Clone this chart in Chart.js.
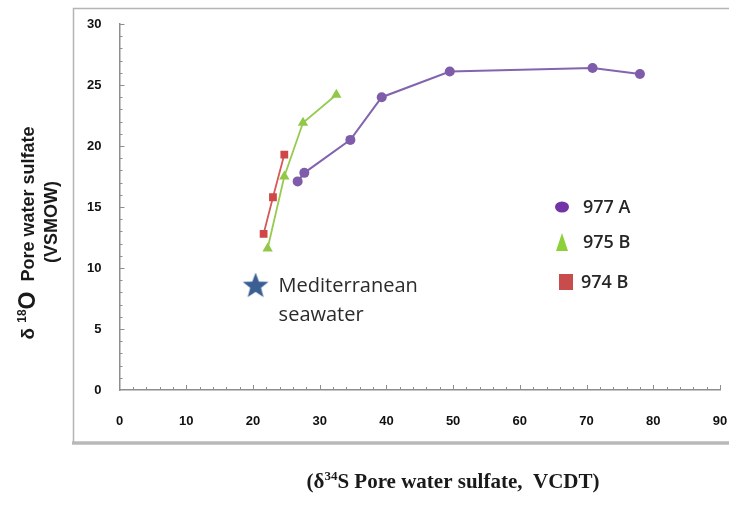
<!DOCTYPE html>
<html>
<head>
<meta charset="utf-8">
<script src="https://cdn.jsdelivr.net/npm/chart.js@4.4.1/dist/chart.umd.min.js"></script>
<style>
  html, body { margin: 0; padding: 0; background: #ffffff; }
  #wrap { width: 729px; height: 505px; position: relative; }
</style>
</head>
<body>
<div id="wrap"><canvas id="c" width="729" height="505"></canvas></div>
<script>
// ---- data ----
const seriesNames = ['977 A', '975 B', '974 B'];
const x977 = [26.7, 27.7, 34.6, 39.3, 49.5, 70.9, 78.0];
const y977 = [17.1, 17.8, 20.5, 24.0, 26.1, 26.4, 25.9];
const x975 = [22.2, 24.7, 27.5, 32.5];
const y975 = [11.6, 17.5, 21.9, 24.2];
const x974 = [21.6, 23.0, 24.7];
const y974 = [12.8, 15.8, 19.3];
const seawaterX = [20.4];
const seawaterY = [8.6];
const seawaterLabel = ['Mediterranean', 'seawater'];
const xTicks = [0, 10, 20, 30, 40, 50, 60, 70, 80, 90];
const yTicks = [0, 5, 10, 15, 20, 25, 30];

const pts = (xs, ys) => xs.map((x, i) => ({ x: x, y: ys[i] }));

// filled five-point star marker
function makeStar(size, color) {
  const c = document.createElement('canvas');
  c.width = size; c.height = size;
  const g = c.getContext('2d');
  const cx = size / 2, cy = size / 2 + 1, R = size / 2 - 0.5, r = R * 0.42;
  g.beginPath();
  for (let i = 0; i < 10; i++) {
    const a = -Math.PI / 2 + i * Math.PI / 5;
    const rr = i % 2 === 0 ? R : r;
    const px = cx + rr * Math.cos(a), py = cy + rr * Math.sin(a);
    if (i === 0) g.moveTo(px, py); else g.lineTo(px, py);
  }
  g.closePath();
  g.fillStyle = color;
  g.fill();
  return c;
}
const starImg = makeStar(28, '#3B5E93');

const AXIS = '#8e8e8e';

const decor = {
  id: 'decor',
  beforeDraw(chart) {
    const ctx = chart.ctx;
    ctx.save();
    ctx.fillStyle = '#ffffff';
    ctx.fillRect(0, 0, chart.width, chart.height);
    // outer frame
    ctx.strokeStyle = '#b4b4b4';
    ctx.lineWidth = 1.5;
    ctx.beginPath();
    ctx.moveTo(740, 8.5);
    ctx.lineTo(73.5, 8.5);
    ctx.lineTo(73.5, 442);
    ctx.stroke();
    ctx.lineWidth = 3.5;
    ctx.strokeStyle = '#b8b8b8';
    ctx.beginPath();
    ctx.moveTo(72, 443);
    ctx.lineTo(740, 443);
    ctx.stroke();
    ctx.restore();
  },
  afterDraw(chart) {
    const ctx = chart.ctx;
    const xs = chart.scales.x, ys = chart.scales.y;
    ctx.save();
    // inward tick marks
    ctx.strokeStyle = AXIS;
    ctx.lineWidth = 1;
    const y0 = ys.getPixelForValue(0);
    for (let v = 2; v <= 90; v += 2) {
      const px = Math.round(xs.getPixelForValue(v)) + 0.5;
      const len = v % 10 === 0 ? 5 : 3;
      ctx.beginPath(); ctx.moveTo(px, y0); ctx.lineTo(px, y0 - len); ctx.stroke();
    }
    const x0 = xs.getPixelForValue(0);
    for (let v = 1; v <= 30; v += 1) {
      const py = Math.round(ys.getPixelForValue(v)) + 0.5;
      const len = v % 5 === 0 ? 5 : 3;
      ctx.beginPath(); ctx.moveTo(x0, py); ctx.lineTo(x0 + len, py); ctx.stroke();
    }

    // y axis title (rotated, two lines)
    ctx.fillStyle = '#1a1a1a';
    ctx.save();
    ctx.translate(29, 233);
    ctx.rotate(-Math.PI / 2);
    ctx.textBaseline = 'middle';
    const fMain = 'bold 18px "Liberation Sans", Arial, sans-serif';
    const fD = 'bold 19px "Liberation Sans", Arial, sans-serif';
    const fSup = 'bold 12px "Liberation Sans", Arial, sans-serif';
    const fO = 'bold 23px "Liberation Sans", Arial, sans-serif';
    const parts = [['δ ', fD, 0], ['18', fSup, -6], ['O', fO, 0], ['  Pore water sulfate', fMain, 0]];
    let total = 0;
    parts.forEach(p => { ctx.font = p[1]; total += ctx.measureText(p[0]).width; });
    let cx = -total / 2;
    ctx.textAlign = 'left';
    parts.forEach(p => { ctx.font = p[1]; ctx.fillText(p[0], cx, p[2]); cx += ctx.measureText(p[0]).width; });
    ctx.font = fMain;
    ctx.textAlign = 'center';
    ctx.fillText('(VSMOW)', 11, 23);
    ctx.restore();

    // x axis title
    ctx.textBaseline = 'alphabetic';
    const xMain = 'bold 21px "Liberation Serif", "Times New Roman", serif';
    const xSup = 'bold 13px "Liberation Serif", "Times New Roman", serif';
    const xparts = [['(δ', xMain, 0], ['34', xSup, -8], ['S Pore water sulfate,  VCDT)', xMain, 0]];
    let xt = 0;
    xparts.forEach(p => { ctx.font = p[1]; xt += ctx.measureText(p[0]).width; });
    let xx = 453 - xt / 2;
    ctx.textAlign = 'left';
    xparts.forEach(p => { ctx.font = p[1]; ctx.fillText(p[0], xx, 488 + p[2]); xx += ctx.measureText(p[0]).width; });

    // seawater annotation text, next to the star drawn by the scale
    const sx = xs.getPixelForValue(seawaterX[0]);
    const sy = ys.getPixelForValue(seawaterY[0]);
    ctx.font = '20px "Open Sans", sans-serif';
    ctx.fillStyle = '#2b2b2b';
    ctx.textBaseline = 'middle';
    ctx.fillText(seawaterLabel[0], sx + 23, sy + 1);
    ctx.fillText(seawaterLabel[1], sx + 23, sy + 30);

    // legend
    const items = [
      { name: seriesNames[0], y: 207, draw: (x, y) => { ctx.fillStyle = '#7233A6'; ctx.beginPath(); ctx.ellipse(x, y, 7, 5.5, 0, 0, Math.PI * 2); ctx.fill(); } },
      { name: seriesNames[1], y: 242, draw: (x, y) => { ctx.fillStyle = '#8DD03A'; ctx.beginPath(); ctx.moveTo(x, y - 9); ctx.lineTo(x + 6, y + 9); ctx.lineTo(x - 6, y + 9); ctx.closePath(); ctx.fill(); } },
      { name: seriesNames[2], y: 282, draw: (x, y) => { ctx.fillStyle = '#C94C4C'; ctx.fillRect(x - 7 + 4, y - 8, 14, 16); } }
    ];
    items.forEach((it, i) => {
      it.draw(562, it.y);
      ctx.fillStyle = '#262626';
      ctx.font = '600 18px "Open Sans", sans-serif';
      ctx.textAlign = 'left';
      ctx.textBaseline = 'middle';
      ctx.fillText(it.name, i === 2 ? 581 : 583, it.y + 1);
    });
    ctx.restore();
  }
};

const tickFont = { family: '"Liberation Sans", Arial, sans-serif', size: 13, weight: 'bold' };

new Chart(document.getElementById('c'), {
  type: 'scatter',
  data: {
    datasets: [
      {
        label: seriesNames[0], data: pts(x977, y977), showLine: true,
        borderColor: '#8265AE', borderWidth: 2,
        pointStyle: 'circle', pointRadius: 5, pointBackgroundColor: '#7E5CAA', pointBorderColor: '#7E5CAA', pointBorderWidth: 0
      },
      {
        label: seriesNames[1], data: pts(x975, y975), showLine: true,
        borderColor: '#96CB4F', borderWidth: 1.8,
        pointStyle: 'triangle', pointRadius: 6, pointBackgroundColor: '#92C848', pointBorderColor: '#92C848', pointBorderWidth: 0
      },
      {
        label: seriesNames[2], data: pts(x974, y974), showLine: true,
        borderColor: '#D65A5A', borderWidth: 1.8,
        pointStyle: 'rect', pointRadius: 5.5, pointBackgroundColor: '#CF4747', pointBorderColor: '#CF4747', pointBorderWidth: 0
      },
      {
        label: 'Mediterranean seawater', data: pts(seawaterX, seawaterY), showLine: false,
        pointStyle: starImg, pointRadius: 14
      }
    ]
  },
  options: {
    responsive: false,
    animation: false,
    devicePixelRatio: 1,
    layout: { autoPadding: false, padding: { left: 0, right: 9, top: 24, bottom: 0 } },
    plugins: { legend: { display: false }, tooltip: { enabled: false } },
    scales: {
      x: {
        type: 'linear', min: 0, max: 90,
        afterFit: s => { s.height = 115; s.paddingLeft = 0; s.paddingRight = 0; },
        afterBuildTicks: s => { s.ticks = xTicks.map(v => ({ value: v })); },
        grid: { display: false, drawTicks: false },
        border: { display: true, color: AXIS, width: 1.5 },
        ticks: { font: tickFont, color: '#111', padding: 24, maxRotation: 0 }
      },
      y: {
        type: 'linear', min: 0, max: 30,
        afterFit: s => { s.width = 119.5; s.paddingTop = 0; s.paddingBottom = 0; },
        afterBuildTicks: s => { s.ticks = yTicks.map(v => ({ value: v })); },
        grid: { display: false, drawTicks: false },
        border: { display: true, color: AXIS, width: 1.5 },
        ticks: { font: tickFont, color: '#111', padding: 18 }
      }
    }
  },
  plugins: [decor]
});
</script>
</body>
</html>
